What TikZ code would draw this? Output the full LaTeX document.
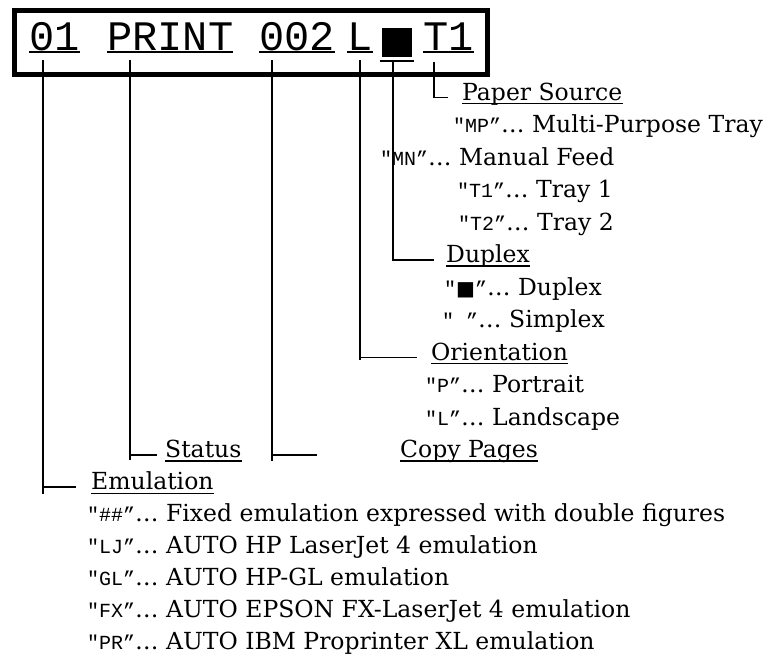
\documentclass[tikz,border=0pt]{standalone}
\usepackage{fontspec}
\setmainfont{DejaVu Serif}
\setmonofont{Liberation Mono}
\newfontfamily\symfont{DejaVu Sans}
\newcommand{\mono}[1]{{\fontsize{20}{20}\ttfamily #1}}

\begin{document}
\begin{tikzpicture}[x=1pt,y=-1pt]

% Define styles
\tikzstyle{field} = [font=\fontsize{42}{42}\ttfamily, inner sep=0pt, text depth=0pt, anchor=base west]
\tikzstyle{head} = [font=\fontsize{23.5}{28}\selectfont, inner sep=0pt, text depth=0pt, anchor=base west]
\tikzstyle{item} = [font=\fontsize{23.5}{28}\selectfont, inner sep=0pt, anchor=base west]
\tikzstyle{lead} = [line width=1.5pt]
\tikzstyle{fieldline} = [line width=2.5pt]
\tikzstyle{headline} = [line width=1.5pt]

\useasboundingbox (0,0) rectangle (765,656);

% Display panel
\draw [line width=5pt] (14,10) rectangle (487,74);
\node (f01) [field] at (29,50) {01};
\node (fprint) [field] at (107,50) {PRINT};
\node (f002) [field] at (259,50) {002};
\node (fl) [field] at (347,50) {L};
\node (sq) [fill=black, inner sep=0pt, minimum width=30pt, minimum height=29pt] at (397,42.5) {};
\node (ft1) [field] at (423,50) {T1};

\foreach \f in {f01,fprint,f002,fl,ft1}
  \draw [fieldline] ([yshift=-2pt]\f.south west) -- ([yshift=-2pt]\f.south east);
\draw [fieldline] ([xshift=-2pt,yshift=-4pt]sq.south west) -- ([xshift=2pt,yshift=-4pt]sq.south east);

% Paper source
\node (paper) [head] at (462,100) {Paper Source};
\node (mp) [item] at (453,132) {\mono{"MP”}… Multi-Purpose Tray};
\node (mn) [item] at (380,165) {\mono{"MN”}… Manual Feed};
\node (tr1) [item] at (457,197.5) {\mono{"T1”}… Tray 1};
\node (tr2) [item] at (458,230) {\mono{"T2”}… Tray 2};

% Duplex
\node (duplex) [head] at (446,262.5) {Duplex};
\node (dup) [item] at (444,295) {\mono{"{\symfont ■}”}… Duplex};
\node (simp) [item] at (442,327.5) {\mono{"\ ”}… Simplex};

% Orientation
\node (orient) [head] at (431,360) {Orientation};
\node (port) [item] at (425,392.5) {\mono{"P”}… Portrait};
\node (land) [item] at (425,425) {\mono{"L”}… Landscape};

% Status and copy pages
\node (status) [head] at (165,457.4) {Status};
\node (copy) [head] at (400,457.4) {Copy Pages};

% Emulation
\node (emu) [head] at (91,489.8) {Emulation};
\node (fixed) [item] at (87,521.6) {\mono{"\#\#”}… Fixed emulation expressed with double figures};
\node (lj) [item] at (87,553.5) {\mono{"LJ”}… AUTO HP LaserJet 4 emulation};
\node (gl) [item] at (87,585.4) {\mono{"GL”}… AUTO HP-GL emulation};
\node (fx) [item] at (87,617.2) {\mono{"FX”}… AUTO EPSON FX-LaserJet 4 emulation};
\node (pr) [item] at (87,649) {\mono{"PR”}… AUTO IBM Proprinter XL emulation};

\foreach \h in {paper,duplex,orient,status,copy,emu}
  \draw [headline] ([yshift=-3.5pt]\h.south west) -- ([yshift=-3.5pt]\h.south east);

% Leaders
\coordinate (t01) at ([xshift=14pt,yshift=-10pt]f01.south west);
\coordinate (tprint) at ([xshift=23pt,yshift=-10pt]fprint.south west);
\coordinate (t002) at ([xshift=13pt,yshift=-10pt]f002.south west);
\coordinate (tl) at ([yshift=-10pt]fl.south);
\coordinate (tsq) at ([xshift=-4pt,yshift=-4pt]sq.south);
\coordinate (tt1) at ([xshift=11pt,yshift=-12pt]ft1.south west);

\draw [lead] (tt1) |- ([xshift=-14pt]paper.mid west);
\draw [lead] (tsq) |- ([xshift=-12pt]duplex.mid west);
\draw [lead] (tl) |- ([xshift=-14pt]orient.mid west);
\draw [lead] (tl |- orient.mid west) -- ++(0,3);
\draw [lead] (t002) |- ([xshift=-83pt]copy.mid west);
\draw [lead] (t002 |- copy.mid west) -- ++(0,6);
\draw [lead] (tprint) |- ([xshift=-8pt]status.mid west);
\draw [lead] (tprint |- status.mid west) -- ++(0,5);
\draw [lead] (t01) |- ([xshift=-15pt]emu.mid west);
\draw [lead] (t01 |- emu.mid west) -- ++(0,7);

\end{tikzpicture}
\end{document}
